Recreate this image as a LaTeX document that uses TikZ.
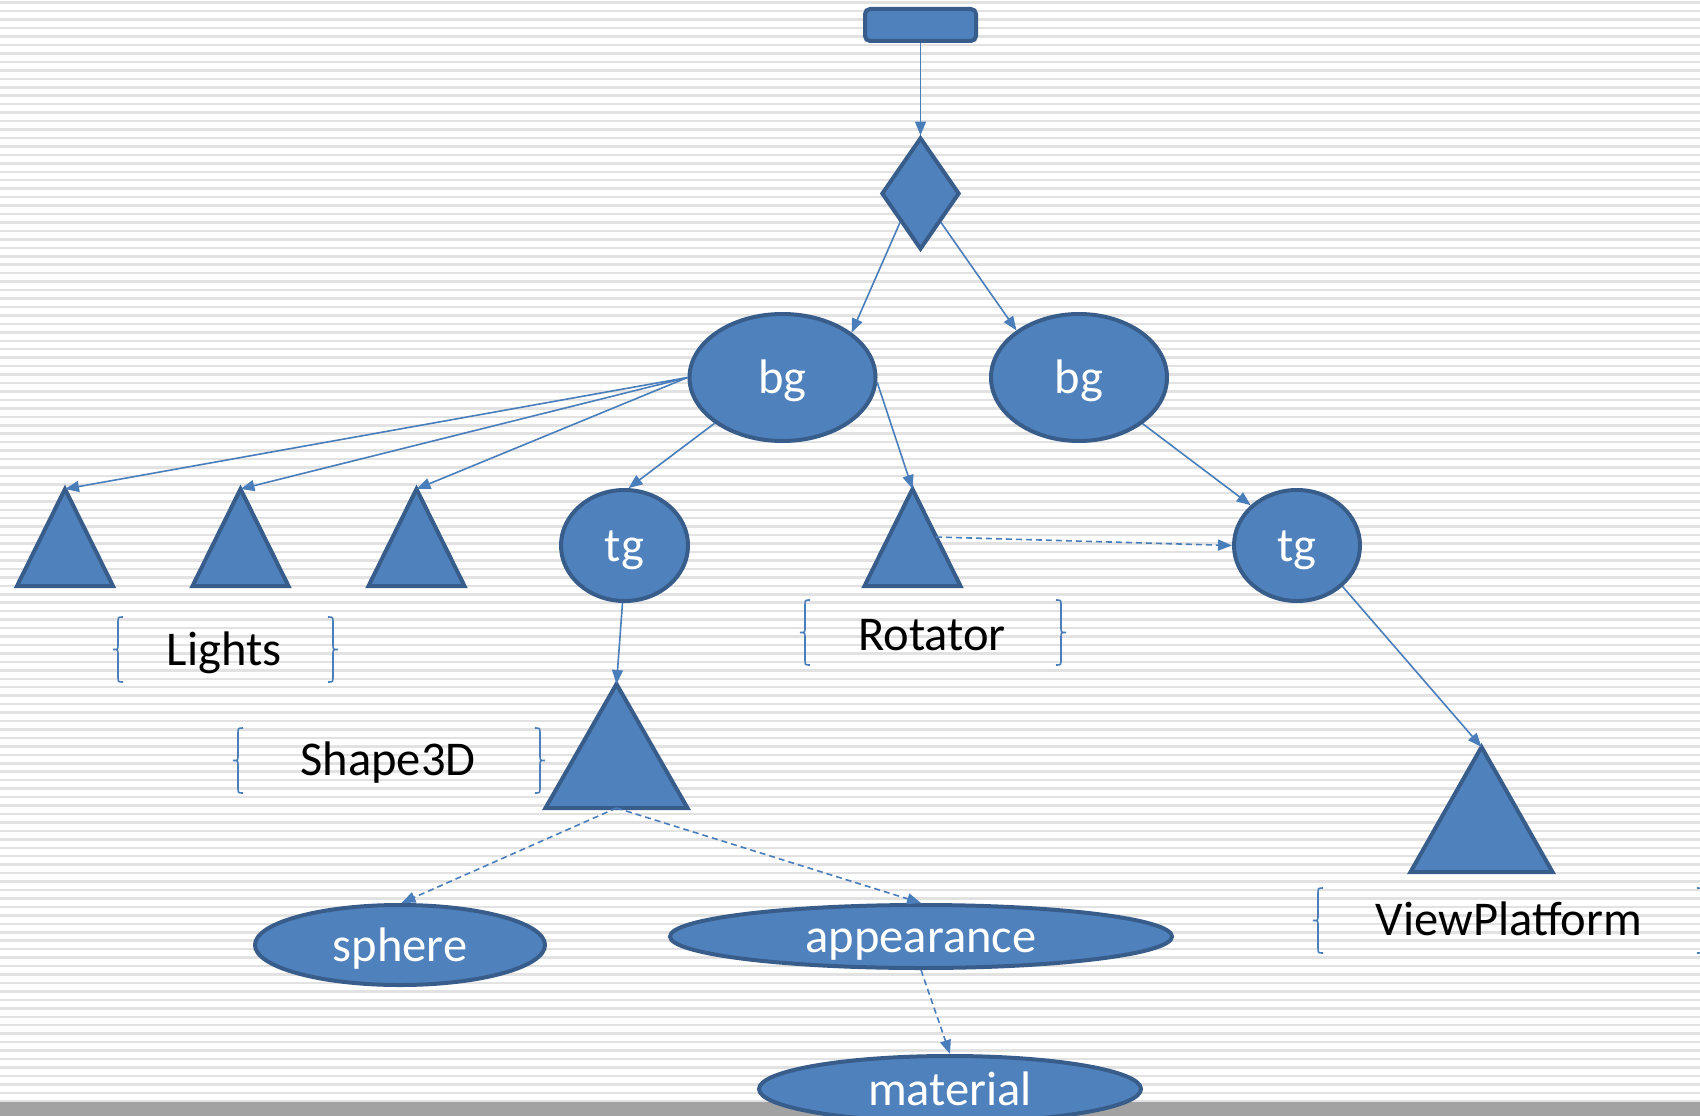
\documentclass[tikz,border=0pt]{standalone}
\usepackage{fontspec}
\setmainfont{Carlito}
\usetikzlibrary{arrows.meta,shapes.geometric}
\definecolor{shapefill}{HTML}{4F81BD}
\definecolor{shapeborder}{HTML}{385D8A}
\definecolor{linec}{HTML}{4A7EBB}
\definecolor{stripec}{HTML}{E2E2E2}
\definecolor{bandc}{HTML}{A2A2A2}
\tikzset{
  shp/.style={fill=shapefill, draw=shapeborder, line width=4pt},
  ell/.style={shp, ellipse, inner sep=0pt, text=white, text height=32pt, text depth=0pt, font=\fontsize{48.5}{58}\selectfont},
  conn/.style={draw=linec, line width=1.6pt, -{Triangle[length=14pt,width=11pt]}},
  dconn/.style={conn, dash pattern=on 6pt off 4pt},
  brc/.style={draw=linec, line width=1.6pt},
  lbl/.style={anchor=base, inner sep=0pt, text=black, font=\fontsize{48.5}{58}\selectfont}
}
\newcommand\mytri[5]{%
  \draw[shp] (#2,#3) -- ({#2+#5},#4) -- ({#2-#5},#4) -- cycle;
  \coordinate (#1) at (#2,#3);
  \coordinate (#1-b) at (#2,#4);}
\newcommand\mybraces[4]{% xL, xR, ytop, ybot
  \pgfmathsetmacro\ym{(#3+#4)/2}
  \draw[brc] ({#1+10},#3) .. controls ({#1+5},#3) .. ({#1+5},{#3+6}) -- ({#1+5},{\ym-5})
     .. controls ({#1+5},\ym) .. (#1,\ym) .. controls ({#1+5},\ym) .. ({#1+5},{\ym+5})
     -- ({#1+5},{#4-6}) .. controls ({#1+5},#4) .. ({#1+10},#4);
  \draw[brc] ({#2-10},#3) .. controls ({#2-5},#3) .. ({#2-5},{#3+6}) -- ({#2-5},{\ym-5})
     .. controls ({#2-5},\ym) .. (#2,\ym) .. controls ({#2-5},\ym) .. ({#2-5},{\ym+5})
     -- ({#2-5},{#4-6}) .. controls ({#2-5},#4) .. ({#2-10},#4);}
\begin{document}
\begin{tikzpicture}[x=1pt,y=-1pt]
\useasboundingbox (0,0) rectangle (1700,1116);
\clip (0,0) rectangle (1700,1116);
% background
\fill[white] (0,0) rectangle (1700,1116);
\foreach \i in {0,...,131} {
  \fill[stripec] (0,{\i*8.45+1.5}) rectangle (1700,{\i*8.45+4});
}
\fill[bandc] (0,1102) rectangle (1700,1116);

% nodes
\node[shp, rectangle, rounded corners=5pt, minimum width=111pt, minimum height=32pt, inner sep=0pt] (root) at (920.5,25) {};
\node[shp, diamond, minimum width=78pt, minimum height=112pt, inner sep=0pt] (dia) at (920.5,193.5) {};
\node[ell, minimum width=186pt, minimum height=127pt] (bg1) at (782.5,377.5) {bg};
\node[ell, minimum width=176pt, minimum height=127pt] (bg2) at (1079,377.5) {bg};
\node[ell, minimum width=127pt, minimum height=111pt] (tg1) at (624.5,545.5) {tg};
\node[ell, minimum width=126pt, minimum height=111pt] (tg2) at (1297,545.5) {tg};
\node[ell, minimum width=290pt, minimum height=80pt] (sphere) at (400,945) {sphere};
\node[ell, minimum width=502pt, minimum height=63pt] (app) at (921,936.5) {appearance};
\node[ell, minimum width=382pt, minimum height=66pt] (mat) at (950,1089) {material};

\mytri{t1}{65}{489}{586}{48}
\mytri{t2}{240.5}{489}{586}{48}
\mytri{t3}{416.5}{489}{586}{48}
\mytri{rot}{912.5}{489}{586}{48}
\mytri{s3d}{616.5}{684}{808}{71}
\mytri{vp}{1481.5}{747}{872}{71}
\coordinate (rotdash) at (936,537);

% labels with braces
\mybraces{113}{338}{617}{682}
\node[lbl] (lights) at (224,665) {Lights};
\mybraces{800}{1066}{600}{665}
\node[lbl] (rotator) at (932,650) {Rotator};
\mybraces{233}{545}{728}{793}
\node[lbl] (shape) at (388,775) {Shape3D};
\mybraces{1313}{1707}{888}{953}
\node[lbl] (viewp) at (1509,935) {ViewPlatform};

% connectors
\draw[conn] (root.south) -- (dia.north);
\draw[conn] (dia.south west) -- (bg1.33);
\draw[conn] (dia.south east) -- (bg2.143);
\draw[conn] (bg1.west) -- (t1);
\draw[conn] (bg1.west) -- (t2);
\draw[conn] (bg1.west) -- (t3);
\draw[conn] (bg1.214) -- (tg1.86);
\draw[conn] (bg1.-3) -- (rot);
\draw[conn] (bg2.-36) -- (tg2.139);
\draw[dconn] (rotdash) -- (tg2.west);
\draw[conn] (tg1.268) -- (s3d);
\draw[conn] (tg2.-42) -- (vp);
\draw[dconn] (s3d-b) -- (sphere.88);
\draw[dconn] (s3d-b) -- (app.north);
\draw[dconn] (app.south) -- (mat.north);
\end{tikzpicture}
\end{document}
